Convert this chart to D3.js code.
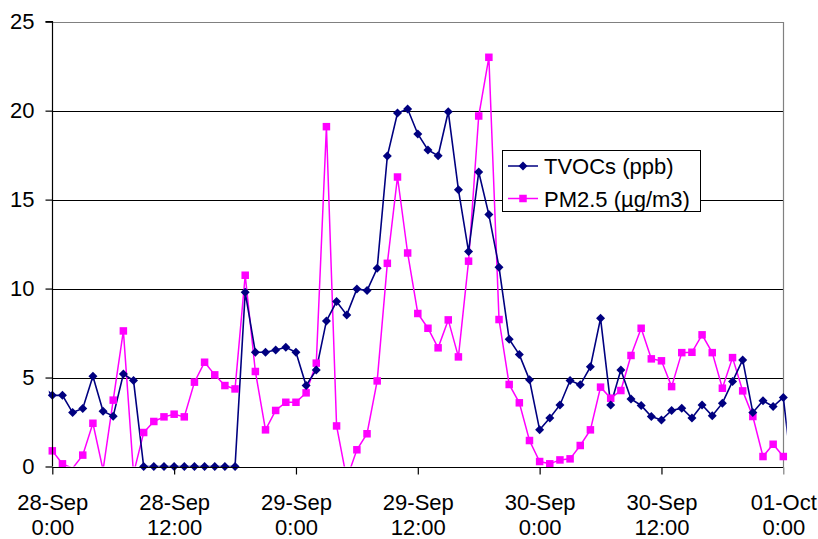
<!DOCTYPE html>
<html>
<head>
<meta charset="utf-8">
<script src="https://d3js.org/d3.v7.min.js"></script>
<style>
  html, body { margin: 0; padding: 0; background: #fff; }
  svg { display: block; }
  text { font-family: Arial, "Liberation Sans", sans-serif; fill: #000; }
</style>
</head>
<body>
<svg id="chart" width="818" height="539"></svg>
<script>
// ---- data (hour offsets from 28-Sep 0:00) ----
const tvocStartHour = -1;
const tvocValues = [4.6,
  4.0, 4.0, 3.03, 3.26, 5.07, 3.11, 2.83, 5.2, 4.83, 0,
  0, 0, 0, 0, 0, 0, 0, 0, 0, 9.79,
  6.42, 6.42, 6.55, 6.70, 6.42, 4.55, 5.43, 8.18, 9.27, 8.52,
  9.98, 9.89, 11.14, 17.45, 19.87, 20.09, 18.69, 17.79, 17.47, 19.94,
  15.56, 12.08, 16.55, 14.16, 11.2, 7.15, 6.29, 4.87, 2.06, 2.72,
  3.46, 4.83, 4.59, 5.6, 8.33, 3.46, 5.43, 3.8, 3.43, 2.81,
  2.62, 3.15, 3.28, 2.72, 3.46, 2.85, 3.56, 4.78, 5.99, 3.03,
  3.69, 3.37, 3.88, -1.0];
const pmStartHour = 0;
const pmValues = [
  0.88, 0.15, -0.1, 0.64, 2.43, -0.2, 3.73, 7.62, -0.4, 1.91,
  2.53, 2.79, 2.94, 2.79, 4.74, 5.86, 5.15, 4.55, 4.36, 10.75,
  5.34, 2.06, 3.15, 3.61, 3.61, 4.14, 5.81, 19.1, 2.28, -0.7,
  0.94, 1.84, 4.81, 11.42, 16.27, 12.0, 8.6, 7.77, 6.67, 8.24,
  6.16, 11.54, 19.7, 23.0, 8.26, 4.61, 3.58, 1.46, 0.28, 0.15,
  0.37, 0.43, 1.18, 2.06, 4.46, 3.84, 4.27, 6.24, 7.77, 6.05,
  5.94, 4.49, 6.4, 6.42, 7.4, 6.4, 4.4, 6.12, 4.25, 2.81,
  0.56, 1.25, 0.56];
const seriesNames = ["TVOCs (ppb)", "PM2.5 (µg/m3)"];
const xTickHours = [0, 12, 24, 36, 48, 60, 72];
const xTickLabels = [["28-Sep", "0:00"], ["28-Sep", "12:00"], ["29-Sep", "0:00"], ["29-Sep", "12:00"],
                     ["30-Sep", "0:00"], ["30-Sep", "12:00"], ["01-Oct", "0:00"]];
const yTicks = [0, 5, 10, 15, 20, 25];

// ---- layout ----
const svg = d3.select("#chart");
const pLeft = 52.3, pRight = 783.3, pTop = 21.7, pBottom = 466.5;
const x = d3.scaleLinear().domain([0, 72]).range([pLeft, pRight]);
const y = d3.scaleLinear().domain([0, 25]).range([pBottom, pTop]);

const tvoc = tvocValues.map((v, i) => ({ h: tvocStartHour + i, v }));
const pm = pmValues.map((v, i) => ({ h: pmStartHour + i, v }));

// gridlines
svg.append("g").selectAll("line").data(yTicks.filter(t => t > 0 && t < 25)).join("line")
  .attr("x1", pLeft).attr("x2", pRight)
  .attr("y1", d => Math.round(y(d)) + 0.5).attr("y2", d => Math.round(y(d)) + 0.5)
  .attr("stroke", "#000").attr("stroke-width", 1);

// plot border (top & right)
svg.append("path")
  .attr("d", `M${pLeft},${Math.round(pTop) + 0.5}H${Math.round(pRight) + 0.5}V${Math.round(pBottom) + 0.5}`)
  .attr("fill", "none").attr("stroke", "#808080").attr("stroke-width", 1.2);

// clip for lines
svg.append("clipPath").attr("id", "clip").append("rect")
  .attr("x", pLeft - 3.5).attr("y", pTop).attr("width", pRight - pLeft + 7).attr("height", pBottom - pTop);

const line = d3.line().x(d => x(d.h)).y(d => y(d.v));
const g = svg.append("g").attr("clip-path", "url(#clip)");
g.append("path").datum(pm).attr("d", line).attr("fill", "none").attr("stroke", "#FF00FF").attr("stroke-width", 1.5);
g.append("path").datum(tvoc).attr("d", line).attr("fill", "none").attr("stroke", "#000080").attr("stroke-width", 1.6);

const inRange = d => d.h >= 0 && d.h <= 72 && d.v >= 0 && d.v <= 25;
// PM markers (squares)
const sq = 7.5;
svg.append("g").selectAll("rect").data(pm.filter(inRange)).join("rect")
  .attr("x", d => x(d.h) - sq / 2).attr("y", d => y(d.v) - sq / 2)
  .attr("width", sq).attr("height", sq).attr("fill", "#FF00FF");
// TVOC markers (diamonds)
const dm = 4.5;
svg.append("g").selectAll("path").data(tvoc.filter(inRange)).join("path")
  .attr("d", d => `M${x(d.h)},${y(d.v) - dm}L${x(d.h) + dm},${y(d.v)}L${x(d.h)},${y(d.v) + dm}L${x(d.h) - dm},${y(d.v)}Z`)
  .attr("fill", "#000080");

// y axis
const yAxis = svg.append("g").attr("transform", `translate(${Math.round(pLeft) + 0.5},0)`)
  .call(d3.axisLeft(y).tickValues(yTicks).tickSize(7).tickPadding(11).tickFormat(d3.format("d")));
yAxis.selectAll("line, path").attr("stroke", "#000").attr("stroke-width", 1.2);
yAxis.select(".domain").attr("d", `M-7,${pTop}H0V${pBottom}`);
yAxis.selectAll("text").attr("font-size", 22).attr("font-family", "Arial, 'Liberation Sans', sans-serif").attr("fill", "#000");

// x axis
const xAxis = svg.append("g").attr("transform", `translate(0,${Math.round(pBottom) + 0.5})`)
  .call(d3.axisBottom(x).tickValues(xTickHours).tickSize(7).tickFormat(""));
xAxis.selectAll("line, path").attr("stroke", "#000").attr("stroke-width", 1.2);
xAxis.select(".domain").attr("d", `M${pLeft},0H${pRight}`);
xAxis.selectAll(".tick").filter(d => d === 72).select("line").attr("stroke", "#808080");
xAxis.selectAll(".tick text").remove();
xAxis.selectAll(".tick").append("text")
  .attr("text-anchor", "middle").attr("font-size", 22)
  .attr("font-family", "Arial, 'Liberation Sans', sans-serif").attr("fill", "#000")
  .selectAll("tspan").data(d => xTickLabels[xTickHours.indexOf(d)]).join("tspan")
  .attr("x", 0).attr("y", (d, i) => i === 0 ? 42.5 : 67.5).text(d => d);

// legend
const lg = svg.append("g");
lg.append("rect").attr("x", 502.5).attr("y", 150.5).attr("width", 198).attr("height", 61)
  .attr("fill", "#fff").attr("stroke", "#000").attr("stroke-width", 1);
const rows = [
  { name: seriesNames[0], color: "#000080", cy: 166, shape: "diamond" },
  { name: seriesNames[1], color: "#FF00FF", cy: 198.5, shape: "square" }
];
rows.forEach(r => {
  lg.append("line").attr("x1", 508).attr("x2", 538).attr("y1", r.cy).attr("y2", r.cy)
    .attr("stroke", r.color).attr("stroke-width", 1.5);
  if (r.shape === "diamond") {
    lg.append("path").attr("d", `M523,${r.cy - dm}L${523 + dm},${r.cy}L523,${r.cy + dm}L${523 - dm},${r.cy}Z`).attr("fill", r.color);
  } else {
    lg.append("rect").attr("x", 523 - sq / 2).attr("y", r.cy - sq / 2).attr("width", sq).attr("height", sq).attr("fill", r.color);
  }
  lg.append("text").attr("x", 544).attr("y", r.cy + 8.3).attr("font-size", 22).text(r.name);
});
</script>
</body>
</html>
